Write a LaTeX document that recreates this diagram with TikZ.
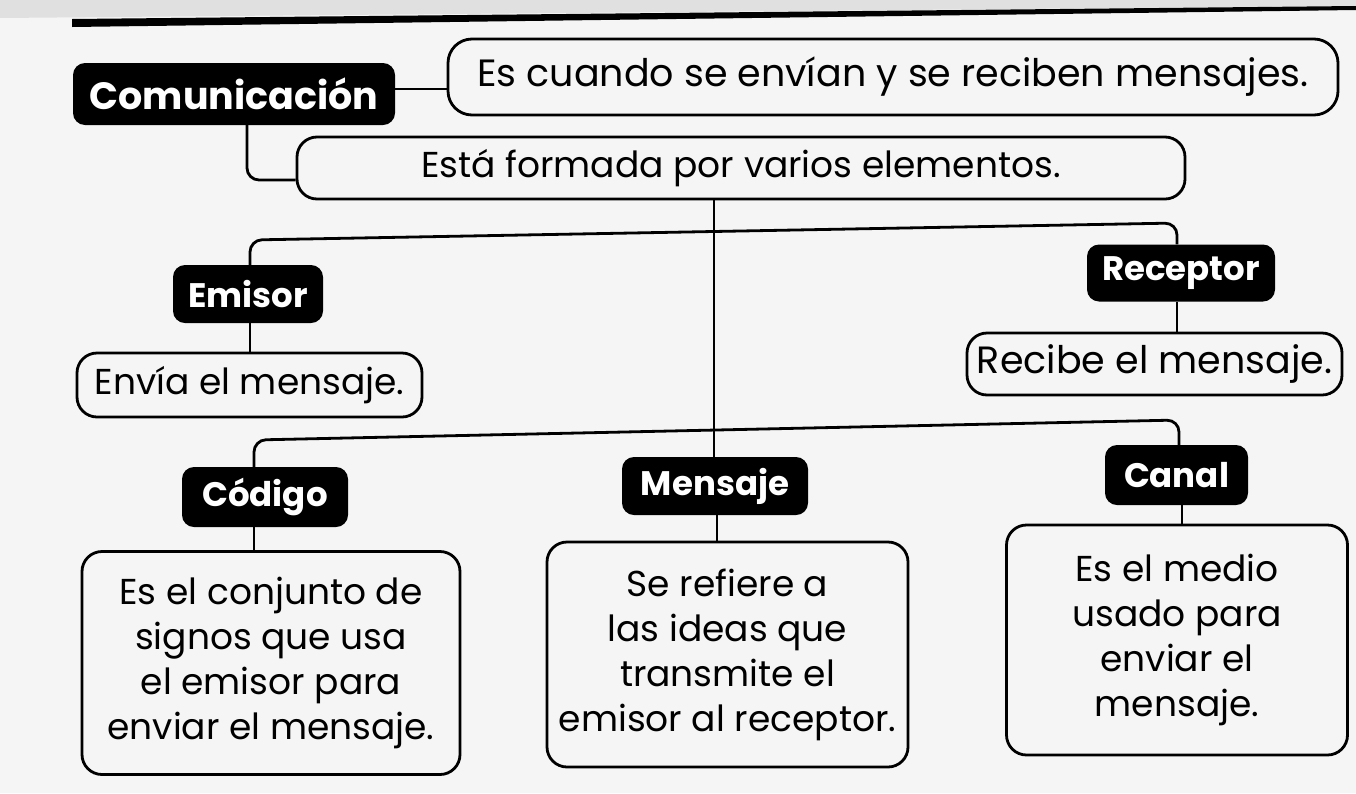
\documentclass[tikz,border=0pt]{standalone}
\usepackage{fontspec}
\setmainfont{Poppins}
\begin{document}
\begin{tikzpicture}[x=1pt,y=-1pt,
  dark/.style={fill=black, rounded corners=12pt, text=white, inner sep=0pt, font=\fontsize{34}{40}\selectfont\bfseries},
  desc/.style={draw=black, line width=2.8pt, rounded corners=20pt, inner sep=0pt, align=center, font=\fontsize{36}{45}\selectfont},
  conn/.style={draw=black, line width=2.8pt, rounded corners=12pt}]
\useasboundingbox (0,0) rectangle (1356,793);
\fill[black!4] (0,0) rectangle (1356,793);
\fill[black!12] (0,0) -- (1356,0) -- (1356,6) -- (0,18) -- cycle;
\fill[black] (72,19) -- (1356,6) -- (1356,10) -- (72,27) -- cycle;

\node[dark, minimum width=322pt, minimum height=62pt, font=\fontsize{38}{44}\selectfont\bfseries] (com) at (234,94) {Comunicación};
\node[desc, minimum width=890pt, minimum height=76pt, rounded corners=24pt, font=\fontsize{38}{44}\selectfont] (def) at (893,77) {Es cuando se envían y se reciben mensajes.};
\node[desc, minimum width=888pt, minimum height=62pt] (est) at (741,168) {Está formada por varios elementos.};
\node[dark, minimum width=150pt, minimum height=58pt] (emi) at (248,294) {Emisor};
\node[desc, minimum width=345pt, minimum height=64pt] (env) at (249.5,385) {Envía el mensaje.};
\node[dark, minimum width=188pt, minimum height=57pt] (rec) at (1181,273) {Receptor};
\node[desc, minimum width=375pt, minimum height=62pt, font=\fontsize{38}{44}\selectfont] (recd) at (1154.5,364) {Recibe el mensaje.};
\node[dark, minimum width=166pt, minimum height=60pt] (cod) at (265,497) {Código};
\node[desc, minimum width=378pt, minimum height=223pt] (codd) at (271,663) {Es el conjunto de\\signos que usa\\el emisor para\\enviar el mensaje.};
\node[dark, minimum width=186pt, minimum height=58pt] (men) at (715,486) {Mensaje};
\node[desc, minimum width=361pt, minimum height=225pt] (mend) at (727.5,654.5) {Se refiere a\\las ideas que\\transmite el\\emisor al receptor.};
\node[dark, minimum width=143pt, minimum height=60pt] (can) at (1176.5,475) {Canal};
\node[desc, minimum width=341pt, minimum height=230pt] (cand) at (1177,640) {Es el medio\\usado para\\enviar el\\mensaje.};

\draw[conn] (com.east |- 0,89) -- (def.west |- 0,89);
\draw[conn] (com.south -| 247,0) |- (est.west |- 0,180);
\draw[conn] (est.south -| 714,0) -- (men.north -| 714,0);
\draw[conn] (emi.north -| 250,0) -- (250,240) -- (1177,223) -- (rec.north -| 1177,0);
\draw[conn] (emi.south -| 250,0) -- (env.north -| 250,0);
\draw[conn] (rec.south -| 1177,0) -- (recd.north -| 1177,0);
\draw[conn] (cod.north -| 254,0) -- (254,440) -- (1179,420) -- (can.north -| 1179,0);
\draw[conn] (cod.south -| 254,0) -- (codd.north -| 254,0);
\draw[conn] (men.south -| 717,0) -- (mend.north -| 717,0);
\draw[conn] (can.south -| 1182,0) -- (cand.north -| 1182,0);
\end{tikzpicture}
\end{document}
